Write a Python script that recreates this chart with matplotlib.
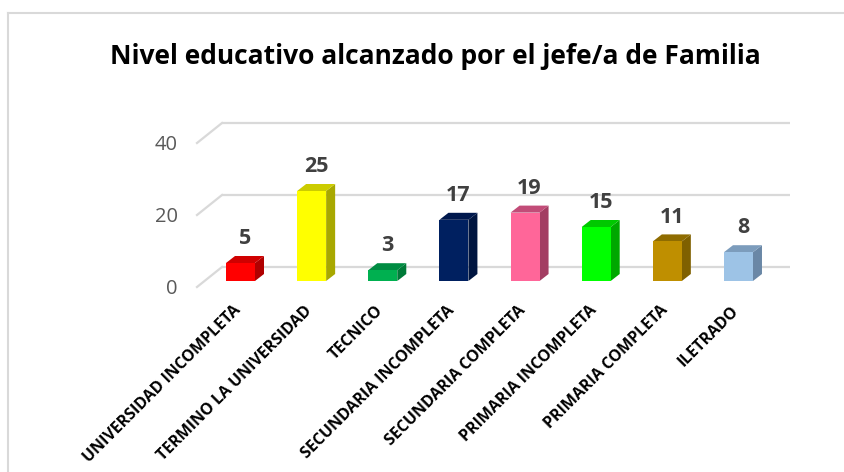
import matplotlib
matplotlib.use("Agg")
import matplotlib.pyplot as plt
from matplotlib.patches import Polygon, Rectangle
from matplotlib.lines import Line2D

categories = ["UNIVERSIDAD INCOMPLETA", "TERMINO LA UNIVERSIDAD", "TECNICO",
              "SECUNDARIA INCOMPLETA", "SECUNDARIA COMPLETA", "PRIMARIA INCOMPLETA",
              "PRIMARIA COMPLETA", "ILETRADO"]
values = [5, 25, 3, 17, 19, 15, 11, 8]
front_colors = ["#FF0000", "#FFFF00", "#00B050", "#002060", "#FF6699", "#00FF00", "#BF8F00", "#9DC3E6"]
side_colors = ["#B00000", "#A8A800", "#007A38", "#001540", "#A33D62", "#00A800", "#7F6000", "#6A87A6"]
top_colors = ["#D00000", "#CCCC00", "#008C42", "#00184D", "#C24C78", "#00C800", "#8F6C00", "#7C9CBC"]
y_ticks = [0, 20, 40]
title = "Nivel educativo alcanzado por el jefe/a de Familia"

W, H = 845, 472
fig = plt.figure(figsize=(W / 100, H / 100), dpi=100)
ax = fig.add_axes([0, 0, 1, 1])

# pixel mapping -> data units
x0_px, x_step = 240.5, 71.14
y0_px, y_scale = 281.0, 3.6
ax.set_xlim(-x0_px / x_step, (W - x0_px) / x_step)
ax.set_ylim((y0_px - H) / y_scale, y0_px / y_scale)
ax.axis("off")

# depth parameters (data units)
bw = 29 / x_step
bdx, bdy = 9 / x_step, 7 / y_scale
wall_dx, wall_dy = -18.5 / x_step, 14 / y_scale
floor_dx, floor_dy = -43.5 / x_step, -6 / y_scale
right_end = (790 - x0_px) / x_step

grid_col = "#D9D9D9"
for v in y_ticks:
    ax.add_line(Line2D([wall_dx, right_end], [v + wall_dy, v + wall_dy],
                       color=grid_col, lw=1.6, zorder=1, solid_capstyle="butt"))
    ax.add_line(Line2D([floor_dx, wall_dx], [v + floor_dy, v + wall_dy],
                       color=grid_col, lw=1.6, zorder=1))
    ax.text(floor_dx - 0.27, v + floor_dy - 0.6, str(v), ha="right", va="center",
            fontsize=14.5, color="#595959", family="Open Sans")

for i, (v, fc, sc, tc) in enumerate(zip(values, front_colors, side_colors, top_colors)):
    l, r = i - bw / 2, i + bw / 2
    ax.add_patch(Polygon([(r, 0), (r + bdx, bdy), (r + bdx, v + bdy), (r, v)],
                         closed=True, facecolor=sc, edgecolor="none", zorder=3))
    ax.add_patch(Polygon([(l, v), (r, v), (r + bdx, v + bdy), (l + bdx, v + bdy)],
                         closed=True, facecolor=tc, edgecolor="none", zorder=3))
    ax.add_patch(Rectangle((l, 0), bw, v, facecolor=fc, edgecolor="none", zorder=4))
    ax.text(i + bdx / 2, v + bdy + 1.9, str(v), ha="center", va="bottom",
            fontsize=15.5, fontweight="bold", color="#404040", family="Open Sans")
    ax.text(i - 0.11, -6.0, categories[i], rotation=45, rotation_mode="anchor",
            ha="right", va="top", fontsize=11.5, fontweight="bold", color="black",
            family="Open Sans")

fig.text(435 / W, 1 - 57 / H, title, ha="center", va="center", fontsize=19,
         fontweight="bold", color="black", family="Open Sans")

# chart frame (left and top border visible)
fig.add_artist(Line2D([8.5 / W, 8.5 / W], [0, 1 - 13 / H], color=grid_col, lw=1.5,
                      transform=fig.transFigure))
fig.add_artist(Line2D([8.5 / W, 1], [1 - 13 / H, 1 - 13 / H], color=grid_col, lw=1.5,
                      transform=fig.transFigure))

fig.savefig("out.png", dpi=100, facecolor="white")
